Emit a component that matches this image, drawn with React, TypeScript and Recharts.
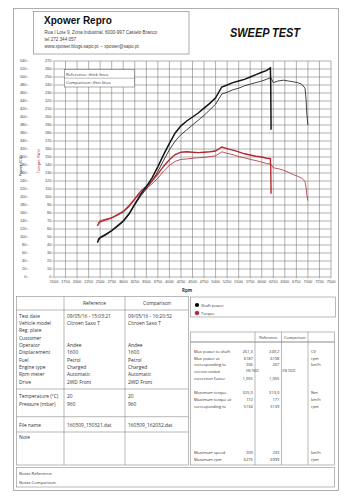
import React from 'react';
import { LineChart, Line, XAxis, YAxis, CartesianGrid } from 'recharts';

// ---- data ----
const refRpm = [2440, 2470, 2500, 2625, 2750, 2875, 3000, 3125, 3250, 3375, 3500, 3625, 3750, 3875, 4000, 4125, 4250, 4375, 4500, 4625, 4750, 4875, 5000, 5134, 5250, 5375, 5500, 5625, 5750, 5875, 6000, 6100, 6187, 6195, 6202];
const refPower = [43, 47, 49, 53, 58, 64, 70, 79, 91, 103, 113, 124, 138, 153, 167, 180, 189, 195, 200, 205, 211, 217, 224, 237.5, 240, 243, 245, 247, 250, 253, 256, 258, 261.3, 240, 184];
const refTorque = [128, 134, 138, 143, 148, 156, 164, 178, 195, 214, 227, 240, 258, 277, 293, 306, 312, 313, 312, 311, 312, 313, 315, 325, 321, 317, 313, 308, 305, 302, 300, 297, 296, 272, 208];

const cmpRpm = [2450, 2480, 2500, 2625, 2750, 2875, 3000, 3125, 3250, 3375, 3500, 3625, 3750, 3875, 4000, 4125, 4250, 4375, 4500, 4625, 4750, 4875, 5000, 5139, 5250, 5375, 5500, 5625, 5750, 5875, 6000, 6100, 6198, 6250, 6350, 6468, 6575, 6684, 6775, 6865, 6937, 6960, 6975, 6999];
const cmpPower = [47, 49, 50, 54, 58, 63, 69, 78, 90, 101, 110, 120, 132, 146, 159, 170, 178, 184, 190, 196, 202, 209, 216, 229, 231, 234, 236, 239, 241, 243, 245, 247, 249.2, 243, 245, 246, 245, 244, 243, 241, 236, 222, 205, 190];
const cmpTorque = [135, 139, 141, 145, 148, 154, 162, 175, 195, 210, 221, 233, 247, 265, 279, 289, 294, 295, 297, 298, 299, 301, 303, 313, 309, 306, 301, 298, 294, 291, 287, 284, 282, 273, 271, 267, 262, 256, 252, 247, 239, 224, 206, 191];

const rpmTicks = [1500, 1750, 2000, 2250, 2500, 2750, 3000, 3250, 3500, 3750, 4000, 4250, 4500, 4750, 5000, 5250, 5500, 5750, 6000, 6250, 6500, 6750, 7000, 7250, 7500];
const powerTicks = [0, 10, 20, 30, 40, 50, 60, 70, 80, 90, 100, 110, 120, 130, 140, 150, 160, 170, 180, 190, 200, 210, 220, 230, 240, 250, 260, 270];
const torqueTicks = [0, 20, 40, 60, 80, 100, 120, 140, 160, 180, 200, 220, 240, 260, 280, 300, 320, 340, 360, 380, 400, 420, 440, 460, 480, 500, 520, 540];

const infoLabels = ['Test date', 'Vehicle model', 'Reg. plate', 'Customer', 'Operator', 'Displacement', 'Fuel', 'Engine type', 'Rpm meter', 'Drive'];
const refInfo = ['09/05/16 - 15:03:21', 'Citroen Saxo T', '', '', 'Andee', '1600', 'Petrol', 'Charged', 'Automatic', '2WD Front'];
const cmpInfo = ['09/05/16 - 16:20:32', 'Citroen Saxo T', '', '', 'Andee', '1600', 'Petrol', 'Charged', 'Automatic', '2WD Front'];
const envLabels = ['Temperature (°C)', 'Pressure (mbar)'];
const refEnv = ['20', '960'];
const cmpEnv = ['20', '960'];
const fileNames = ['160509_150321.dat', '160509_162032.dat'];

const resLabels = ['Max power to shaft', 'Max power at', 'corresponding to', 'correction standard', 'correction factor', '', 'Maximum torque', 'Maximum torque at', 'corresponding to'];
const resRef = ['261,3', '6187', '206', 'DIN 70020', '1,055', '', '325,0', '172', '5134'];
const resCmp = ['249,2', '6198', '207', 'DIN 70020', '1,055', '', '313,0', '171', '5139'];
const resUnits = ['CV', 'rpm', 'km/h', '', '', '', 'Nm', 'km/h', 'rpm'];
const speedLabels = ['Maximum speed', 'Maximum rpm'];
const speedRef = ['209', '6275'];
const speedCmp = ['233', '6999'];
const speedUnits = ['km/h', 'rpm'];

const refData = refRpm.map((r, i) => ({ rpm: r, power: refPower[i], torque: refTorque[i] }));
const cmpData = cmpRpm.map((r, i) => ({ rpm: r, power: cmpPower[i], torque: cmpTorque[i] }));

const BLACK = '#141414';
const RED = '#b3292e';
const TXT = '#333';
const SANS = '"Open Sans", "Liberation Sans", sans-serif';
const ARIAL = '"Liberation Sans", Arial, sans-serif';

const YTick = (props: any) => {
  const { x, y, payload, dx } = props;
  return (
    <g>
      <text x={x - dx - 2.6} y={y} dy={1.4} textAnchor="end" fontSize={3.9} fill="#444" fontFamily={ARIAL}>{payload.value}</text>
      <line x1={x - dx - 2.2} x2={x - dx - 0.6} y1={y} y2={y} stroke="#777" strokeWidth={0.4} />
    </g>
  );
};

const XTick = (props: any) => {
  const { x, y, payload } = props;
  return (
    <g>
      <line x1={x} x2={x} y1={y} y2={y + 1.8} stroke="#777" strokeWidth={0.4} />
      <text x={x} y={y + 6.3} textAnchor="middle" fontSize={3.9} fill="#444" fontFamily={ARIAL}>{payload.value}</text>
    </g>
  );
};

const leftRowY = [316, 323.3, 330.6, 337.9, 345.2, 352.5, 359.8, 367.1, 374.4, 381.7];
const resRowY = [351, 358, 364.7, 371, 378, 385, 392.3, 399, 406];

export default function App() {
  return (
    <div style={{ position: 'absolute', left: 0, top: 0, width: 354, height: 500, background: '#fff', overflow: 'hidden' }}>
      <div style={{ position: 'absolute', left: 0, top: 0 }}>
        <LineChart width={354} height={300} margin={{ top: 61, right: 23, bottom: 13, left: 9 }}>
          <CartesianGrid yAxisId="p" stroke="#6f6f6f" strokeWidth={0.55} horizontalPoints={undefined} />
          <XAxis
            dataKey="rpm"
            type="number"
            domain={[1500, 7500]}
            ticks={rpmTicks}
            interval={0}
            allowDataOverflow
            height={10}
            tickSize={0}
            tickMargin={0}
            axisLine={false}
            tickLine={false}
            tick={<XTick />}
          />
          <YAxis
            yAxisId="t"
            orientation="left"
            type="number"
            domain={[0, 540]}
            ticks={torqueTicks}
            interval={0}
            width={25}
            tickSize={0}
            tickMargin={0}
            axisLine={false}
            tickLine={false}
            tick={(p: any) => <YTick {...p} dx={5} />}
          />
          <YAxis
            yAxisId="p"
            orientation="left"
            type="number"
            domain={[0, 270]}
            ticks={powerTicks}
            interval={0}
            width={20}
            tickSize={0}
            tickMargin={0}
            axisLine={false}
            tickLine={false}
            tick={(p: any) => <YTick {...p} dx={0} />}
          />
          <Line data={cmpData} dataKey="torque" yAxisId="t" type="linear" stroke={RED} strokeWidth={0.8} dot={false} isAnimationActive={false} />
          <Line data={cmpData} dataKey="power" yAxisId="p" type="linear" stroke={BLACK} strokeWidth={0.8} dot={false} isAnimationActive={false} />
          <Line data={refData} dataKey="torque" yAxisId="t" type="linear" stroke={RED} strokeWidth={1.4} dot={false} isAnimationActive={false} />
          <Line data={refData} dataKey="power" yAxisId="p" type="linear" stroke={BLACK} strokeWidth={1.5} dot={false} isAnimationActive={false} />
        </LineChart>
      </div>
      <svg width={354} height={500} style={{ position: 'absolute', left: 0, top: 0, pointerEvents: 'none' }}>
        {/* outer frame */}
        <rect x={13.5} y={8.5} width={325} height={482} fill="none" stroke="#9a9a9a" strokeWidth={0.8} />
        {/* header */}
        <rect x={33.5} y={11.5} width={155.5} height={42.5} fill="none" stroke="#8a8a8a" strokeWidth={0.7} />
        <text x={44} y={24} fontSize={10} fontWeight="bold" fontFamily={ARIAL} fill="#111">Xpower Repro</text>
        <text x={44.5} y={33.5} fontSize={4.6} fontFamily={ARIAL} fill="#444">Rua I Lote 9, Zona Industrial, 6000-997 Castelo Branco</text>
        <text x={44.5} y={40.5} fontSize={4.6} fontFamily={ARIAL} fill="#444">tel 272 344 057</text>
        <text x={44.5} y={48} fontSize={4.6} fontFamily={ARIAL} fill="#444">www.xpower.blogs.sapo.pt  --  xpower@sapo.pt</text>
        <text x={230} y={36.5} fontSize={12} fontWeight="bold" fontStyle="italic" fontFamily={ARIAL} fill="#111" textLength={70} lengthAdjust="spacingAndGlyphs">SWEEP TEST</text>

        {/* chart legend box */}
        <rect x={64.5} y={69.5} width={70} height={17.5} fill="#fff" stroke="#555" strokeWidth={0.5} />
        <line x1={64.5} x2={134.5} y1={78.2} y2={78.2} stroke="#555" strokeWidth={0.4} />
        <text x={66} y={75.6} fontSize={4.3} fontFamily={SANS} fill={TXT}>Reference: thick lines</text>
        <text x={66} y={84.4} fontSize={4.3} fontFamily={SANS} fill={TXT}>Comparison: thin lines</text>

        {/* axis titles */}
        <text transform="translate(21.5,166) rotate(-90)" textAnchor="middle" fontSize={4.2} fontFamily={SANS} fill="#222">Power (CV)</text>
        <text transform="translate(40,161) rotate(-90)" textAnchor="middle" fontSize={4.2} fontFamily={SANS} fill={RED}>Torque (Nm)</text>
        <text x={187} y={292} textAnchor="middle" fontSize={4.4} fontWeight="bold" fontFamily={SANS} fill="#333">Rpm</text>

        {/* left table */}
        <g stroke="#8a8a8a" strokeWidth={0.6} fill="none">
          <rect x={16.5} y={296.5} width={172} height={168.5} />
          <line x1={64} x2={64} y1={296.5} y2={465} />
          <line x1={125} x2={125} y1={296.5} y2={465} />
          <line x1={16.5} x2={188.5} y1={310} y2={310} />
          <line x1={16.5} x2={188.5} y1={389} y2={389} />
          <line x1={16.5} x2={188.5} y1={416.7} y2={416.7} />
          <line x1={16.5} x2={188.5} y1={432} y2={432} />
        </g>
        <g fontFamily={SANS} fontSize={4.9} fill={TXT}>
          <text x={94.5} y={304.8} textAnchor="middle">Reference</text>
          <text x={157} y={304.8} textAnchor="middle">Comparison</text>
          {infoLabels.map((l, i) => (
            <text key={'il' + i} x={19} y={leftRowY[i] + 1.8}>{l}</text>
          ))}
          {refInfo.map((l, i) => (
            <text key={'ri' + i} x={67} y={leftRowY[i] + 1.8}>{l}</text>
          ))}
          {cmpInfo.map((l, i) => (
            <text key={'ci' + i} x={128} y={leftRowY[i] + 1.8}>{l}</text>
          ))}
          {envLabels.map((l, i) => (
            <text key={'el' + i} x={19} y={397.8 + i * 8}>{l}</text>
          ))}
          {refEnv.map((l, i) => (
            <text key={'er' + i} x={67} y={397.8 + i * 8}>{l}</text>
          ))}
          {cmpEnv.map((l, i) => (
            <text key={'ec' + i} x={128} y={397.8 + i * 8}>{l}</text>
          ))}
          <text x={19} y={426.8}>File name</text>
          <text x={67} y={426.8}>{fileNames[0]}</text>
          <text x={128} y={426.8}>{fileNames[1]}</text>
          <text x={19} y={438.8}>Note</text>
        </g>

        {/* series legend */}
        <rect x={190.5} y={297} width={145} height={20} fill="none" stroke="#8a8a8a" strokeWidth={0.6} />
        <circle cx={197} cy={305} r={2.1} fill="#000" />
        <circle cx={197} cy={313} r={2.1} fill={RED} stroke="#333" strokeWidth={0.3} />
        <text x={201} y={306.5} fontSize={4} fontFamily={SANS} fill={TXT}>Shaft power</text>
        <text x={201} y={314.5} fontSize={4} fontFamily={SANS} fill={TXT}>Torque</text>

        {/* right table */}
        <g stroke="#8a8a8a" strokeWidth={0.6} fill="none">
          <rect x={190.5} y={332} width={144} height={133} />
          <line x1={190.5} x2={334.5} y1={342} y2={342} strokeWidth={1} />
          <line x1={255} x2={255} y1={332} y2={465} />
          <line x1={281.5} x2={281.5} y1={332} y2={465} />
          <line x1={308} x2={308} y1={332} y2={465} />
        </g>
        <g fontFamily={SANS} fontSize={4} fill={TXT}>
          <text x={268.3} y={338.5} textAnchor="middle" fontSize={3.8}>Reference</text>
          <text x={294.8} y={338.5} textAnchor="middle" fontSize={3.8}>Comparison</text>
          {resLabels.map((l, i) => (
            <text key={'rl' + i} x={194} y={resRowY[i] + 1.5} fontSize={i === 3 ? 2.8 : 4}>{l}</text>
          ))}
          {resRef.map((l, i) => (
            i === 3
              ? <text key={'rr' + i} x={246} y={resRowY[i] + 1.2} fontSize={2.6}>{l}</text>
              : <text key={'rr' + i} x={252.8} y={resRowY[i] + 1.5} textAnchor="end">{l}</text>
          ))}
          {resCmp.map((l, i) => (
            i === 3
              ? <text key={'rc' + i} x={282.5} y={resRowY[i] + 1.2} fontSize={2.6}>{l}</text>
              : <text key={'rc' + i} x={279.3} y={resRowY[i] + 1.5} textAnchor="end">{l}</text>
          ))}
          {resUnits.map((l, i) => (
            <text key={'ru' + i} x={311} y={resRowY[i] + 1.5}>{l}</text>
          ))}
          {speedLabels.map((l, i) => (
            <text key={'sl' + i} x={194} y={453.5 + i * 7}>{l}</text>
          ))}
          {speedRef.map((l, i) => (
            <text key={'sr' + i} x={252.8} y={453.5 + i * 7} textAnchor="end">{l}</text>
          ))}
          {speedCmp.map((l, i) => (
            <text key={'sc' + i} x={279.3} y={453.5 + i * 7} textAnchor="end">{l}</text>
          ))}
          {speedUnits.map((l, i) => (
            <text key={'su' + i} x={311} y={453.5 + i * 7}>{l}</text>
          ))}
        </g>

        {/* notes */}
        <rect x={16.5} y={467.5} width={318} height={19.5} fill="none" stroke="#8a8a8a" strokeWidth={0.6} />
        <text x={19} y={474.6} fontSize={4.2} fontFamily={SANS} fill={TXT}>Notes Reference:</text>
        <text x={19} y={483.6} fontSize={4.2} fontFamily={SANS} fill={TXT}>Notes Comparison:</text>
      </svg>
    </div>
  );
}
